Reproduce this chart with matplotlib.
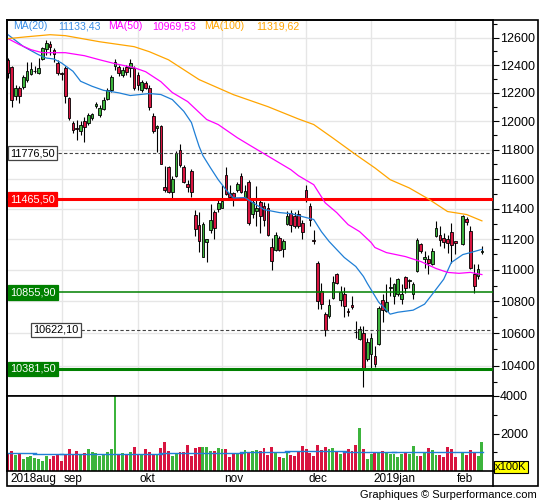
import numpy as np
import matplotlib
matplotlib.use('Agg')
import matplotlib.pyplot as plt
from matplotlib.ticker import FixedLocator, NullFormatter, FuncFormatter
from matplotlib.patches import Rectangle
from matplotlib.lines import Line2D
import matplotlib.transforms as mtransforms

plt.rcParams['font.family'] = ['Liberation Sans', 'DejaVu Sans']

# daily candles, one slot per trading day (slot 118 has no data)
opens = [12438, 12388, 12180, 12237, 12245, 12295, 12338, 12355, 12345, 12446,
         12520, 12555, 12512, 12418, 12340, 12381, 12166, 11990, 11955, 11934,
         12004, 11990, 12020, 12110, 12046, 12088, 12159, 12223, 12395, 12388,
         12331, 12388, 12381, 12381, 12331, 12223, 12273, 12237, 12039, 11955,
         11969, 11549, 11685, 11512, 11623, 11802, 11685, 11569, 11658, 11362,
         11295, 11086, 11178, 11262, 11382, 11402, 11408, 11630, 11509, 11509,
         11529, 11623, 11481, 11582, 11368, 11383, 11443, 11416, 11408, 11151,
         11132, 11208, 11138, 11302, 11375, 11349, 11365, 11309, 11529, 11422,
         11196, 11046, 10865, 10723, 10708, 10823, 10972, 10806, 10844, 10739,
         10775, 10610, 10563, 10603, 10442, 10473, 10462, 10533, 10808, 10739,
         10886, 10833, 10844, 10817, 10954, 10932, 10848, 10992, 11168, 11068,
         11068, 11036, 11222, 11229, 11206, 11202, 11247, 11190, None, 11170,
         11334, 11255, 10972, 10961, 11118]
highs = [12453, 12395, 12259, 12250, 12330, 12420, 12423, 12395, 12453, 12534,
         12580, 12578, 12527, 12438, 12352, 12395, 12173, 12004, 12010, 12004,
         12032, 12060, 12060, 12135, 12116, 12173, 12237, 12331, 12446, 12402,
         12388, 12402, 12446, 12395, 12352, 12295, 12287, 12259, 12060, 11976,
         11976, 11692, 11692, 11623, 11795, 11843, 11698, 11596, 11671, 11389,
         11382, 11315, 11198, 11435, 11389, 11462, 11562, 11685, 11562, 11516,
         11582, 11644, 11562, 11596, 11475, 11556, 11475, 11443, 11442, 11208,
         11249, 11218, 11198, 11383, 11395, 11376, 11395, 11329, 11562, 11440,
         11262, 11057, 10919, 10731, 10812, 10961, 10978, 10897, 10888, 10760,
         10833, 10677, 10646, 10646, 10569, 10603, 10523, 10771, 10844, 10907,
         10957, 10919, 10950, 10907, 10961, 10944, 10923, 11206, 11175, 11121,
         11094, 11143, 11317, 11284, 11240, 11229, 11307, 11190, None, 11362,
         11345, 11284, 11036, 11036, 11157]
lows = [12310, 12102, 12152, 12130, 12230, 12280, 12330, 12345, 12338, 12438,
        12475, 12475, 12423, 12330, 12295, 12130, 12010, 11920, 11870, 11906,
        11856, 11976, 12010, 12095, 12032, 12080, 12152, 12209, 12366, 12323,
        12316, 12331, 12316, 12223, 12223, 12209, 12230, 12081, 11920, 11787,
        11700, 11510, 11505, 11462, 11616, 11685, 11575, 11516, 11481, 11222,
        11118, 11086, 11048, 11242, 11202, 11382, 11408, 11495, 11462, 11422,
        11516, 11509, 11462, 11295, 11342, 11284, 11242, 11284, 11218, 10998,
        11121, 11121, 11082, 11295, 11249, 11276, 11270, 11200, 11443, 11284,
        11170, 10750, 10750, 10584, 10697, 10812, 10908, 10771, 10700, 10708,
        10754, 10571, 10558, 10274, 10431, 10385, 10392, 10529, 10670, 10733,
        10833, 10782, 10833, 10782, 10850, 10886, 10812, 10985, 11110, 11014,
        10972, 11029, 11213, 11152, 11143, 11112, 11046, 11105, None, 11164,
        11295, 11008, 10850, 10944, 11105]
closes = [12345, 12152, 12237, 12180, 12316, 12360, 12374, 12360, 12381, 12527,
          12563, 12535, 12483, 12345, 12335, 12180, 12025, 11941, 11948, 11976,
          11962, 12046, 12053, 12120, 12095, 12152, 12223, 12316, 12424, 12345,
          12366, 12352, 12417, 12237, 12259, 12280, 12237, 12102, 11934, 11969,
          11705, 11525, 11512, 11603, 11781, 11698, 11578, 11549, 11512, 11268,
          11185, 11302, 11198, 11329, 11276, 11442, 11455, 11502, 11481, 11481,
          11569, 11516, 11522, 11309, 11448, 11408, 11349, 11329, 11229, 11060,
          11229, 11132, 11185, 11349, 11295, 11289, 11284, 11244, 11462, 11325,
          11190, 10802, 10782, 10619, 10775, 10925, 10919, 10859, 10771, 10735,
          10763, 10605, 10625, 10378, 10548, 10569, 10414, 10760, 10744, 10798,
          10890, 10912, 10944, 10844, 10886, 10935, 10912, 11196, 11125, 11085,
          11046, 11125, 11274, 11196, 11178, 11174, 11164, 11174, None, 11354,
          11314, 11014, 10897, 11008, 11122]
# volume in units of 100K
volumes = [907, 1056, 870, 926, 630, 740, 815, 685, 630, 556,
           815, 630, 815, 870, 537, 926, 1148, 926, 1056, 926,
           963, 1185, 1037, 963, 778, 870, 1037, 1148, 4000, 907,
           963, 926, 1019, 1296, 926, 926, 1148, 1037, 926, 926,
           1241, 1556, 1056, 815, 926, 1037, 1000, 1407, 815, 1241,
           1296, 1296, 1296, 1056, 1056, 1222, 1148, 1185, 740, 963,
           963, 963, 1111, 1037, 1056, 1111, 1056, 1241, 870, 1296,
           963, 740, 685, 963, 852, 815, 1000, 1333, 1148, 963,
           815, 1407, 1111, 1296, 1148, 1222, 1074, 926, 1000, 1148,
           1056, 1407, 2296, 1185, 630, 889, 963, 1037, 1074, 1037,
           889, 889, 740, 926, 963, 926, 1333, 778, 815, 963,
           1222, 1111, 870, 870, 740, 1296, 1148, 740, None, 963,
           870, 1111, 1000, 778, 1556]
# average volume steps: (first slot, last slot, value)
vol_avg = [(0, 7, 981), (7, 14, 926), (14, 40, 900), (40, 61, 963),
           (61, 73, 1000), (73, 88, 1056), (88, 101, 1037), (101, 124, 1000)]

# moving averages read at some slots
ma20_x = [0, 4, 8, 10, 12, 14, 17, 19, 22, 25, 29, 32, 37, 40, 43, 46, 48, 49,
          50, 51, 53, 55, 57, 59, 62, 64, 67, 71, 74, 78, 80, 82, 84, 86, 88,
          91, 93, 94, 97, 100, 102, 106, 109, 111, 114, 116, 119, 121, 124]
ma20_y = [12622, 12536, 12475, 12451, 12444, 12415, 12355, 12283, 12247, 12218,
          12200, 12181, 12195, 12188, 12152, 12069, 11990, 11905, 11824, 11760,
          11676, 11596, 11529, 11473, 11475, 11442, 11395, 11375, 11368, 11342,
          11329, 11249, 11185, 11132, 11080, 11022, 10958, 10914, 10794, 10719,
          10731, 10744, 10782, 10844, 10940, 11048, 11099, 11112, 11133]
ma50_x = [0, 3, 6, 9, 15, 20, 24, 28, 33, 36, 40, 43, 47, 52, 55, 60, 63, 74,
          76, 80, 83, 86, 89, 92, 95, 96, 99, 104, 108, 112, 115, 118, 121, 124]
ma50_y = [12593, 12549, 12512, 12490, 12490, 12468, 12438, 12410, 12381, 12352,
          12280, 12202, 12138, 12011, 11976, 11884, 11836, 11664, 11623, 11562,
          11440, 11375, 11295, 11249, 11178, 11145, 11112, 11086, 11054, 11009,
          10984, 10978, 10984, 10970]
ma100_x = [0, 5, 11, 15, 24, 33, 37, 42, 50, 59, 68, 76, 80, 85, 91, 96, 100,
           105, 110, 115, 120, 124]
ma100_y = [12593, 12607, 12622, 12615, 12570, 12534, 12497, 12438, 12295, 12187,
           12102, 12015, 11976, 11882, 11767, 11676, 11596, 11540, 11466, 11382,
           11362, 11320]
ma_labels = ['MA(20)', '11133,43', 'MA(50)', '10969,53', 'MA(100)', '11319,62']

levels = [11776.50, 11465.50, 10855.90, 10622.10, 10381.50]
level_labels = ['11776,50', '11465,50', '10855,90', '10622,10', '10381,50']

month_slots = [14, 34, 56, 78, 95, 117]
month_names = ['2018aug', 'sep', 'okt', 'nov', 'dec', '2019jan', 'feb']

RED = '#d81440'
GREEN = '#3cb43c'
BLUE = '#1f7fd6'

o = np.array(opens, dtype=float)
h = np.array(highs, dtype=float)
l = np.array(lows, dtype=float)
c = np.array(closes, dtype=float)
v = np.array(volumes, dtype=float)
x = np.arange(len(o))
up = c >= o
cols = np.where(up, GREEN, RED)

W, H = 545, 500
fig = plt.figure(figsize=(W / 100, H / 100), dpi=100)
ax = fig.add_axes([7 / W, 104 / H, 486 / W, 376 / H])
axv = fig.add_axes([7 / W, 29 / H, 486 / W, 75 / H])

xlim = (-0.26, 126.9)

# ---- price panel
ax.set_yscale('log')
ax.set_xlim(*xlim)
ax.set_ylim(10218, 12731)
for m in month_slots:
    ax.axvline(m, color='#e6e6e6', lw=1, zorder=0)
    axv.axvline(m, color='#e6e6e6', lw=1, zorder=0)
for t in range(10400, 12601, 200):
    ax.axhline(t, color='#e6e6e6', lw=1, zorder=0)

ok = ~np.isnan(o)
ax.vlines(x[ok], l[ok], h[ok], color='black', lw=0.8, zorder=3)
ax.bar(x[ok], (c - o)[ok], bottom=o[ok], width=0.7, color=cols[ok],
       edgecolor='black', linewidth=0.6, zorder=3)

ax.plot(ma20_x, ma20_y, color=BLUE, lw=0.9, zorder=5)
ax.plot(ma50_x, ma50_y, color='#ff00ff', lw=0.9, zorder=5)
ax.plot(ma100_x, ma100_y, color='#ffa500', lw=0.9, zorder=5)

lab_x = [0.0125, 0.105, 0.208, 0.298, 0.405, 0.512]
lab_c = ['#3a8ee6', '#3a8ee6', '#ff00ff', '#ff00ff', '#ffa500', '#ffa500']
for s, px, cc in zip(ma_labels, lab_x, lab_c):
    ax.text(px, 0.983, s, transform=ax.transAxes, color=cc, fontsize=7.6,
            ha='left', va='center', zorder=7)

trans = mtransforms.blended_transform_factory(ax.transAxes, ax.transData)
styles = [
    dict(color='#444444', lw=0.8, ls=(0, (3, 2))),
    dict(color='#ff0000', lw=2.2, ls='-'),
    dict(color='#008000', lw=1.1, ls='-'),
    dict(color='#444444', lw=0.8, ls=(0, (3, 2))),
    dict(color='#008000', lw=2.2, ls='-'),
]
boxes = [('white', '#444444', 'black'), ('#ff0000', '#ff0000', 'white'),
         ('#008000', '#008000', 'white'), ('white', '#444444', 'black'),
         ('#008000', '#008000', 'white')]
box_x = [0.002, 0.002, 0.002, 0.05, 0.002]
for lev, s, st, bx, (fc, ec, tc) in zip(levels, level_labels, styles, box_x, boxes):
    ax.plot([bx, 1], [lev, lev], transform=trans, zorder=4, **st)
    ax.text(bx + 0.004, lev, s, transform=trans, color=tc, fontsize=7.8,
            ha='left', va='center', zorder=6,
            bbox=dict(boxstyle='square,pad=0.2', fc=fc, ec=ec, lw=0.9))

ax.yaxis.tick_right()
ax.yaxis.set_major_locator(FixedLocator(list(range(10400, 12601, 200))))
ax.yaxis.set_minor_locator(FixedLocator(list(range(10300, 12701, 200))))
ax.yaxis.set_major_formatter(FuncFormatter(lambda val, pos: f'{val:.0f}'))
ax.yaxis.set_minor_formatter(NullFormatter())
ax.tick_params(axis='y', which='major', direction='out', length=4, width=0.8,
               labelsize=9, pad=1)
ax.tick_params(axis='y', which='minor', direction='out', length=3, width=0.8)
ax.set_xticks([])
for sp in ax.spines.values():
    sp.set_linewidth(1.2)

# ---- volume panel
axv.set_xlim(*xlim)
axv.set_ylim(0, 4000)
okv = ~np.isnan(v)
axv.bar(x[okv], v[okv], width=0.75, color=cols[okv], linewidth=0, zorder=2)
for a, b, val in vol_avg:
    axv.plot([a - 0.4, b + 0.4], [val, val], color=BLUE, lw=1.0, zorder=3)
axv.yaxis.tick_right()
axv.set_yticks([2000, 4000])
axv.set_yticks([1000, 3000], minor=True)
axv.yaxis.set_major_formatter(FuncFormatter(lambda val, pos: f'{val:.0f}'))
axv.tick_params(axis='y', which='major', direction='out', length=4, width=0.8,
                labelsize=9, pad=1)
axv.tick_params(axis='y', which='minor', direction='out', length=3, width=0.8)
axv.set_xticks([])
for sp in axv.spines.values():
    sp.set_linewidth(1.2)
axv.text(1.004, 0.055, 'x100K', transform=axv.transAxes, fontsize=8,
         ha='left', va='center',
         bbox=dict(boxstyle='square,pad=0.12', fc='#ffff00', ec='black', lw=0.8))

# month labels under the volume panel
tv = mtransforms.blended_transform_factory(axv.transData, axv.transAxes)
label_pos = [0.75] + [m + 0.5 for m in month_slots]
for s, px in zip(month_names, label_pos):
    axv.text(px, -0.11, s, transform=tv, fontsize=8.5, ha='left', va='center')

# outer frame and axis line down to it
fig.add_artist(Rectangle((7 / W, 14 / H), 531 / W, 466 / H, transform=fig.transFigure,
                         fill=False, ec='black', lw=1.2))
fig.add_artist(Line2D([493 / W, 493 / W], [14 / H, 29 / H], transform=fig.transFigure,
                      color='black', lw=1.2))
fig.text(537 / W, 5 / H, 'Graphiques \u00a9 Surperformance.com', fontsize=8,
         ha='right', va='center')

fig.savefig('out.png', dpi=100)
